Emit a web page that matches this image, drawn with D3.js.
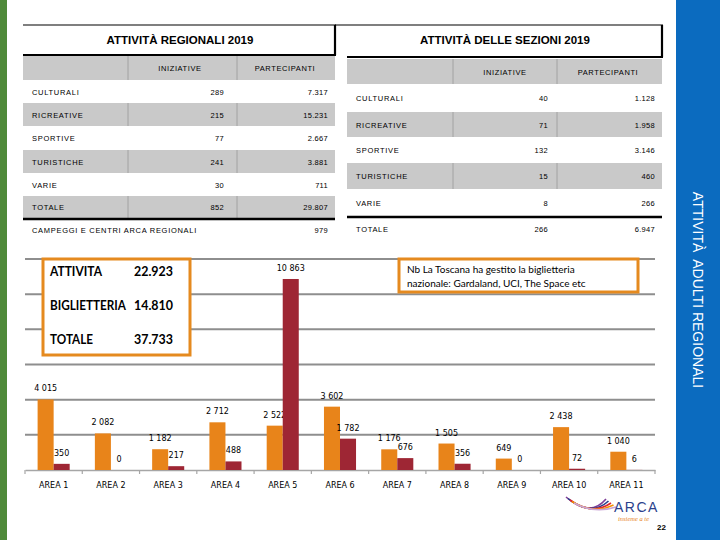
<!DOCTYPE html>
<html><head><meta charset="utf-8">
<script src="https://cdn.jsdelivr.net/npm/d3@7"></script>
<style>
html,body{margin:0;padding:0;background:#fff;}
svg{display:block;}
</style></head>
<body>
<svg id="c" width="720" height="540"></svg>
<script>
// ---------- DATA ----------
const areas = ["AREA 1","AREA 2","AREA 3","AREA 4","AREA 5","AREA 6","AREA 7","AREA 8","AREA 9","AREA 10","AREA 11"];
const attivita = [4015,2082,1182,2712,2522,3602,1176,1505,649,2438,1040];
const biglietteria = [350,0,217,488,10863,1782,676,356,0,72,6];
const yTicks = [2000,4000,6000,8000,10000,12000];

const regTitle = "ATTIVITÀ REGIONALI 2019";
const regCategories = ["CULTURALI","RICREATIVE","SPORTIVE","TURISTICHE","VARIE","TOTALE"];
const regIniziative = [289,215,77,241,30,852];
const regPartecipanti = [7317,15231,2667,3881,711,29807];
const campeggiLabel = "CAMPEGGI E CENTRI ARCA REGIONALI";
const campeggiValue = 979;

const sezTitle = "ATTIVITÀ DELLE SEZIONI 2019";
const sezCategories = ["CULTURALI","RICREATIVE","SPORTIVE","TURISTICHE","VARIE","TOTALE"];
const sezIniziative = [40,71,132,15,8,266];
const sezPartecipanti = [1128,1958,3146,460,266,6947];

const colHeaders = ["INIZIATIVE","PARTECIPANTI"];
const summaryLabels = ["ATTIVITA","BIGLIETTERIA","TOTALE"];
const summaryValues = [22923,14810,37733];
const noteLines = ["Nb La Toscana ha gestito la biglietteria","nazionale: Gardaland, UCI, The Space etc"];
const sideTitle = "ATTIVITÀ  ADULTI REGIONALI";
const pageNumber = "22";

// ---------- FORMATS ----------
const fmtDot = d3.formatLocale({decimal:",",thousands:".",grouping:[3],currency:["","€"]}).format(",d");
const fmtSpace = d3.formatLocale({decimal:",",thousands:" ",grouping:[3],currency:["","€"]}).format(",d");

const svg = d3.select("#c");
const ORANGE = "#E8841A", RED = "#9E2634", GRAY = "#C9C9C9";

// side bars
svg.append("rect").attr("x",0).attr("y",0).attr("width",7).attr("height",540).attr("fill","#4F8A3A");
svg.append("rect").attr("x",676).attr("y",0).attr("width",44).attr("height",540).attr("fill","#0B6BBF");
svg.append("text").attr("transform","translate(693,290) rotate(90)")
  .attr("text-anchor","middle").attr("font-family","Liberation Sans, Arial, sans-serif")
  .attr("font-size",14).attr("fill","#fff").attr("xml:space","preserve").text(sideTitle);

// ---------- TABLE helper ----------
function table(cfg){
  const g = svg.append("g");
  const tf = "Liberation Sans, Arial, sans-serif";
  g.append("line").attr("x1",cfg.boxX0).attr("x2",cfg.x1+1).attr("y1",cfg.titleTop).attr("y2",cfg.titleTop).attr("stroke","#000").attr("stroke-width",1.2);
  g.append("line").attr("x1",cfg.x1).attr("x2",cfg.x1).attr("y1",cfg.titleTop).attr("y2",cfg.titleBot).attr("stroke","#000").attr("stroke-width",2.2);
  g.append("line").attr("x1",cfg.x0).attr("x2",cfg.x1+1).attr("y1",cfg.titleBot).attr("y2",cfg.titleBot).attr("stroke","#000").attr("stroke-width",2.2);
  g.append("text").attr("x",cfg.titleCx).attr("y",cfg.titleTop+19).attr("text-anchor","middle")
    .attr("font-family",tf).attr("font-weight","bold").attr("font-size",11.5).text(cfg.title);
  g.append("rect").attr("x",cfg.x0).attr("y",cfg.headTop).attr("width",cfg.x1-cfg.x0).attr("height",cfg.rows[0]-cfg.headTop).attr("fill",GRAY);
  colHeaders.forEach((h,i)=>{
    g.append("text").attr("x",cfg.headCx[i]).attr("y",(cfg.headTop+cfg.rows[0])/2+3).attr("text-anchor","middle")
      .attr("font-family",tf).attr("font-size",7.5).attr("letter-spacing",0.6).text(h);
  });
  cfg.cats.forEach((c,i)=>{
    const y0 = cfg.rows[i], y1 = cfg.rows[i+1];
    if (cfg.grayRows.includes(i)) g.append("rect").attr("x",cfg.x0).attr("y",y0).attr("width",cfg.x1-cfg.x0).attr("height",y1-y0).attr("fill",GRAY);
    const ym = (y0+y1)/2+3;
    g.append("text").attr("x",cfg.labelX).attr("y",ym).attr("font-family",tf).attr("font-size",7.5).attr("letter-spacing",0.7).text(c);
    g.append("text").attr("x",cfg.numX[0]).attr("y",ym).attr("text-anchor","end").attr("font-family",tf).attr("font-size",7.5).attr("letter-spacing",0.3).text(fmtDot(cfg.ini[i]));
    g.append("text").attr("x",cfg.numX[1]).attr("y",ym).attr("text-anchor","end").attr("font-family",tf).attr("font-size",7.5).attr("letter-spacing",0.3).text(fmtDot(cfg.par[i]));
  });
  [cfg.headTop].concat(cfg.grayRows.map(i=>cfg.rows[i])).forEach((y0,k)=>{
    const y1 = k===0 ? cfg.rows[0] : cfg.rows[cfg.grayRows[k-1]+1];
    cfg.divX.forEach(x=>g.append("line").attr("x1",x).attr("x2",x).attr("y1",y0).attr("y2",y1).attr("stroke","#9A9A9A").attr("stroke-width",0.8));
  });
  g.append("line").attr("x1",cfg.x0).attr("x2",cfg.x1).attr("y1",cfg.thickY).attr("y2",cfg.thickY).attr("stroke","#000").attr("stroke-width",2.5);
  return g;
}

const gL = table({title:regTitle, boxX0:23, x0:23, x1:335, titleTop:25, titleBot:55, titleCx:180,
  headTop:56, rows:[80,103,126,150,173,196,218], grayRows:[1,3,5], headCx:[180,285], divX:[128,237],
  labelX:32, numX:[224,328], cats:regCategories, ini:regIniziative, par:regPartecipanti, thickY:219});
gL.append("text").attr("x",32).attr("y",233).attr("font-family","Liberation Sans, Arial, sans-serif").attr("font-size",7.5).attr("letter-spacing",0.7).text(campeggiLabel);
gL.append("text").attr("x",328).attr("y",233).attr("text-anchor","end").attr("font-family","Liberation Sans, Arial, sans-serif").attr("font-size",7.5).attr("letter-spacing",0.3).text(fmtDot(campeggiValue));

table({title:sezTitle, boxX0:335, x0:347, x1:662, titleTop:25, titleBot:57, titleCx:505,
  headTop:59, rows:[84,112,137,163,189,216,242], grayRows:[1,3], headCx:[505,608], divX:[453,557],
  labelX:356, numX:[548,655], cats:sezCategories, ini:sezIniziative, par:sezPartecipanti, thickY:217});

// ---------- BAR CHART ----------
const x = d3.scaleBand().domain(areas).range([25,655]).padding(0);
const y = d3.scaleLinear().domain([0,12000]).range([470,259]);
const chart = svg.append("g");

chart.selectAll("line.grid").data(yTicks).join("line").attr("class","grid")
  .attr("x1",25).attr("x2",655).attr("y1",d=>y(d)).attr("y2",d=>y(d))
  .attr("stroke","#8E8E8E").attr("stroke-width",2);

const xAxis = chart.append("g").attr("transform",`translate(0,${y(0)})`)
  .call(d3.axisBottom(x).tickSize(0).tickPadding(12));
xAxis.select(".domain").attr("stroke","#A6A6A6").attr("stroke-width",1.5);
xAxis.selectAll("text").attr("font-family","DejaVu Sans, Verdana, sans-serif").attr("font-size",8).attr("fill","#000");
chart.selectAll("line.tk").data(d3.range(areas.length+1)).join("line").attr("class","tk")
  .attr("x1",i=>25+i*x.step()).attr("x2",i=>25+i*x.step()).attr("y1",y(0)).attr("y2",y(0)+4)
  .attr("stroke","#A6A6A6").attr("stroke-width",1.2);

const bw = x.bandwidth()*0.28;
const series = [{vals:attivita,color:ORANGE,off:-bw},{vals:biglietteria,color:RED,off:0}];
series.forEach(s=>{
  chart.selectAll(null).data(areas).join("rect")
    .attr("x",(a)=>x(a)+x.bandwidth()/2+s.off).attr("width",bw)
    .attr("y",(a,i)=>y(s.vals[i])).attr("height",(a,i)=>y(0)-y(s.vals[i]))
    .attr("fill",s.color);
  chart.selectAll(null).data(areas).join("text")
    .attr("x",(a)=>x(a)+x.bandwidth()/2+s.off+bw/2).attr("y",(a,i)=>y(s.vals[i])-8)
    .attr("text-anchor","middle").attr("font-family","DejaVu Sans, Verdana, sans-serif").attr("font-size",8)
    .text((a,i)=>fmtSpace(s.vals[i]));
});

// ---------- SUMMARY BOX ----------
const sb = svg.append("g");
sb.append("rect").attr("x",43).attr("y",259).attr("width",147).attr("height",96).attr("fill","#fff").attr("stroke","#E58A1F").attr("stroke-width",3);
const sumY = [276,310,344];
const sumLabelW = [52,76,43];
summaryLabels.forEach((l,i)=>{
  sb.append("text").attr("x",50).attr("y",sumY[i]).attr("font-family","Lato, Carlito, sans-serif").attr("font-weight","bold").attr("font-size",13)
    .attr("textLength",sumLabelW[i]).attr("lengthAdjust","spacingAndGlyphs").text(l);
  sb.append("text").attr("x",173).attr("y",sumY[i]).attr("text-anchor","end").attr("font-family","Lato, Carlito, sans-serif").attr("font-weight","bold").attr("font-size",13)
    .attr("textLength",39).attr("lengthAdjust","spacingAndGlyphs").text(fmtDot(summaryValues[i]));
});

// ---------- NOTE BOX ----------
const nb = svg.append("g");
nb.append("rect").attr("x",399).attr("y",259).attr("width",239).attr("height",33).attr("fill","#fff").attr("stroke","#E58A1F").attr("stroke-width",3);
noteLines.forEach((t,i)=>nb.append("text").attr("x",407).attr("y",273+i*13.5).attr("font-family","Lato, Carlito, sans-serif").attr("font-size",10).text(t));

// ---------- LOGO ----------
const lg = svg.append("g");
const swCols = ["#7F3F98","#2B3F8C","#E1262C","#F39200","#C9A6D6"];
swCols.forEach((c,i)=>{
  lg.append("path").attr("d",`M${566+i*2},${497+i*1.5} Q${590+i},${518-i} ${606+i*2.5},${499+i*2}`)
    .attr("fill","none").attr("stroke",c).attr("stroke-width",1.6);
});
lg.append("text").attr("x",614).attr("y",512).attr("font-family","Liberation Sans, Arial, sans-serif").attr("font-size",14).attr("letter-spacing",1.5).attr("fill","#2B3F8C").text("ARCA");
lg.append("text").attr("x",618).attr("y",521).attr("font-family","Liberation Serif, serif").attr("font-style","italic").attr("font-size",6.5).attr("fill","#E8841A").text("insieme a te");
svg.append("text").attr("x",657).attr("y",530).attr("font-family","Liberation Sans, Arial, sans-serif").attr("font-weight","bold").attr("font-size",8).text(pageNumber);
</script>
</body></html>
